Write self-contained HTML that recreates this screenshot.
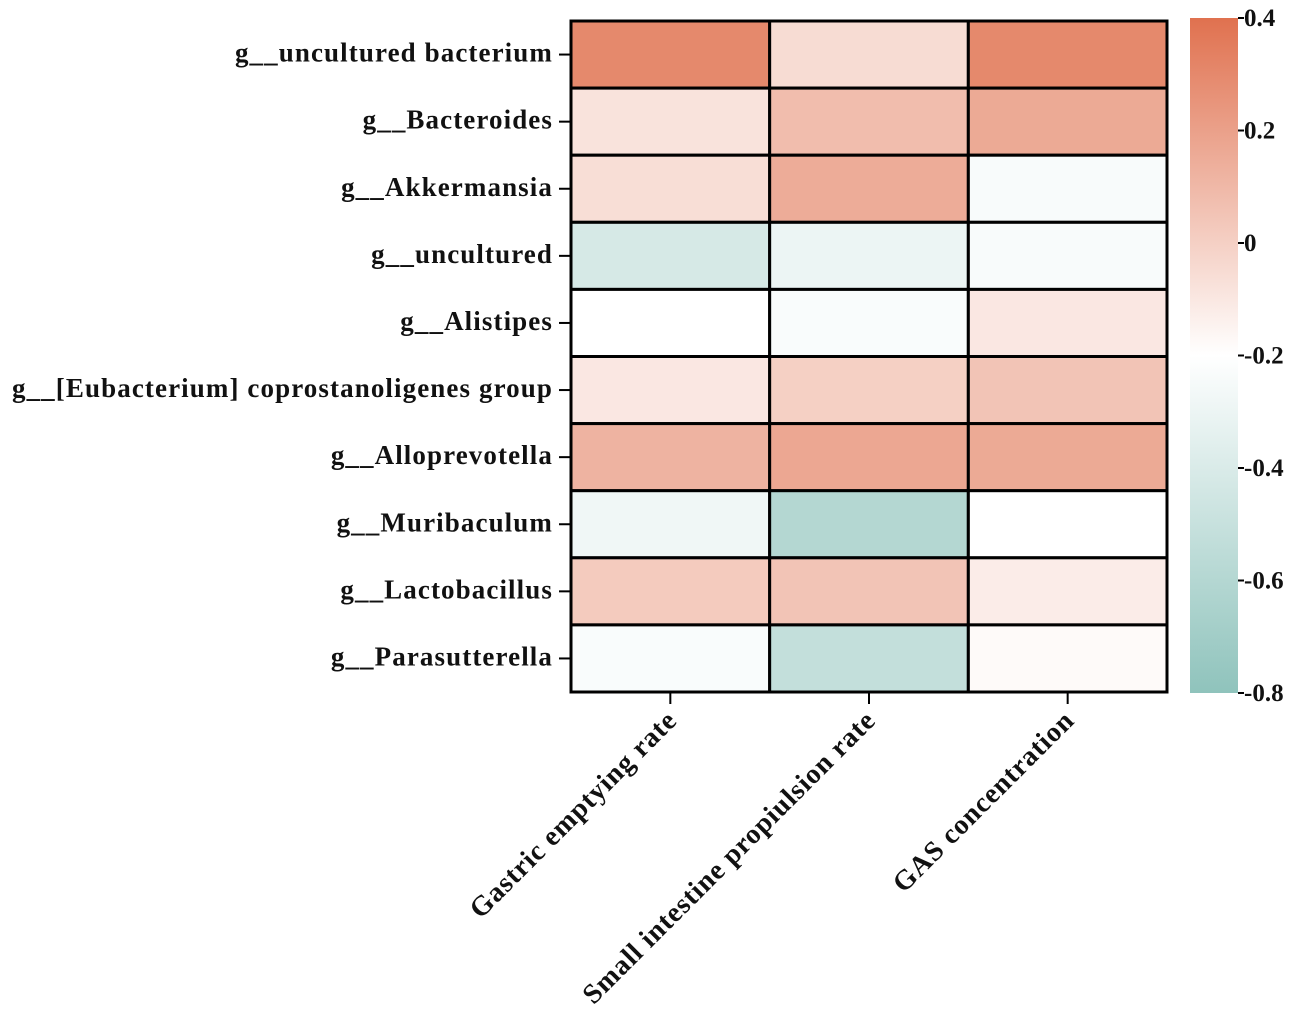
<!DOCTYPE html>
<html><head><meta charset="utf-8"><style>
body{margin:0;background:#fff}
svg{display:block}
text{font-family:"Liberation Serif",serif;font-weight:bold;fill:#111}
</style></head><body>
<svg id="chart" width="1301" height="1013" viewBox="0 0 1301 1013">
<defs><linearGradient id="cb" x1="0" y1="0" x2="0" y2="1">
<stop offset="0" stop-color="#e0714f"/><stop offset="0.5" stop-color="#ffffff"/><stop offset="1" stop-color="#8fc3bc"/></linearGradient></defs>
<g id="cells"></g><g id="ylabels"></g><g id="xlabels"></g><g id="cbar"></g>
</svg>
<script>
const rows=["g__uncultured bacterium","g__Bacteroides","g__Akkermansia","g__uncultured","g__Alistipes","g__[Eubacterium] coprostanoligenes group","g__Alloprevotella","g__Muribaculum","g__Lactobacillus","g__Parasutterella"];
const cols=["Gastric emptying rate","Small intestine propiulsion rate","GAS concentration"];
const gastric=[0.3,-0.08,-0.06,-0.42,-0.2,-0.1,0.12,-0.28,0.02,-0.23];
const smallInt=[-0.05,0.08,0.15,-0.3,-0.23,0.0,0.17,-0.6,0.05,-0.52];
const gas=[0.3,0.16,-0.24,-0.24,-0.1,0.05,0.16,-0.2,-0.12,-0.18];
const cbTicks=[0.4,0.2,0,-0.2,-0.4,-0.6,-0.8];
const series=[gastric,smallInt,gas];
const NS="http://www.w3.org/2000/svg";
const X0=571,X1=1167,Y0=21,Y1=692,VMIN=-0.8,VMAX=0.4,CB0=18,CB1=693;
const cw=(X1-X0)/cols.length,rh=(Y1-Y0)/rows.length;
function xPos(i){return X0+i*cw}
function yPos(j){return Y0+j*rh}
function cbY(v){return CB0+(VMAX-v)/(VMAX-VMIN)*(CB1-CB0)}
function lerp(a,b,t){return a.map((c,i)=>Math.round(c+(b[i]-c)*t))}
function color(v){const mid=-0.2;let c;
 if(v>=mid)c=lerp([255,255,255],[224,113,79],Math.min(1,(v-mid)/(VMAX-mid)));
 else c=lerp([255,255,255],[143,195,188],Math.min(1,(mid-v)/(mid-VMIN)));
 return `rgb(${c})`}
function mk(t,a,p){const e=document.createElementNS(NS,t);for(const k in a)e.setAttribute(k,a[k]);p.appendChild(e);return e}
const cells=document.getElementById('cells');
series.forEach((s,i)=>s.forEach((v,j)=>{
 const r=mk('rect',{x:xPos(i),y:yPos(j),width:cw,height:rh,fill:color(v),stroke:'#000','stroke-width':3},cells);
 
 
}));
const yl=document.getElementById('ylabels');
rows.forEach((n,j)=>{const y=yPos(j)+rh/2;
 mk('line',{x1:X0-12,x2:X0,y1:y,y2:y,stroke:'#000','stroke-width':2},yl);
 const t=mk('text',{x:X0-18,y:y+7,'text-anchor':'end','font-size':27,'letter-spacing':1.1},yl);t.textContent=n;
 
 
});
const xl=document.getElementById('xlabels');
cols.forEach((n,i)=>{const x=xPos(i)+cw/2;
 mk('line',{x1:x,x2:x,y1:Y1,y2:Y1+12,stroke:'#000','stroke-width':2},xl);
 const t=mk('text',{x:x+8,y:Y1+30,'text-anchor':'end','font-size':28,'letter-spacing':0.8,transform:`rotate(-45 ${x+8} ${Y1+30})`},xl);t.textContent=n;
 
 
});
const cb=document.getElementById('cbar');
const bar=mk('rect',{x:1190,y:CB0,width:48,height:CB1-CB0,fill:'url(#cb)'},cb);


cbTicks.forEach(v=>{const y=cbY(v);
 mk('line',{x1:1238,x2:1244,y1:y,y2:y,stroke:'#000','stroke-width':2},cb);
 const t=mk('text',{x:1244,y:y+8,'font-size':25},cb);t.textContent=(v===0?'0':v.toString());
 
 
});
</script>
</body></html>
